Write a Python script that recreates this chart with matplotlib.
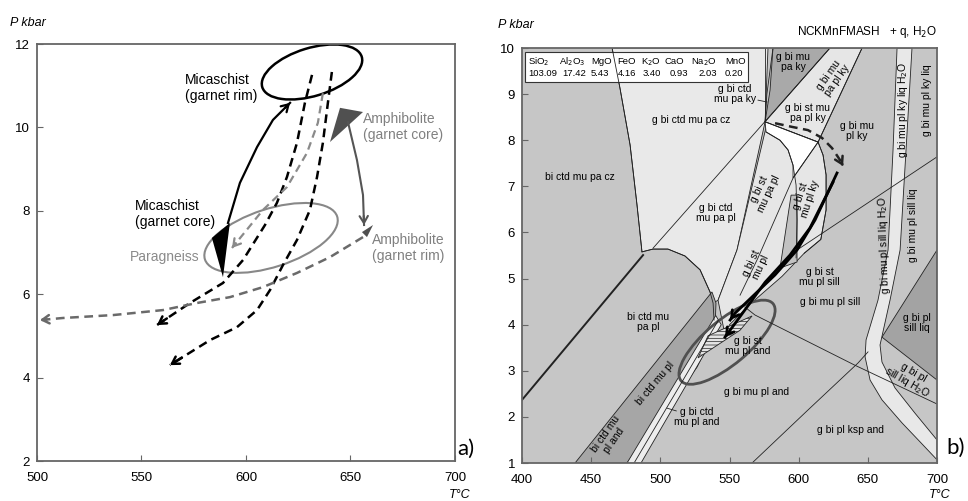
import numpy as np
import matplotlib.pyplot as plt
import matplotlib.transforms as mtransforms
from matplotlib.patches import Ellipse, Polygon

plt.rcParams['font.family'] = ['Liberation Sans', 'DejaVu Sans']
plt.rcParams['hatch.linewidth'] = 0.5

# ---------------- panel a data (T degC, P kbar) ----------------
rim_ell = (631.6, 11.33)
para_ell = (612.0, 7.35)

mica_T = [591.4, 597.1, 605.3, 612.9, 621.1]
mica_P = [7.71, 8.67, 9.53, 10.18, 10.59]

dash1_T = [631.6, 628.2, 624.4, 619.6, 614.8, 609.1, 598.6, 589.0, 573.2, 557.4]
dash1_P = [11.26, 10.59, 9.63, 8.81, 8.19, 7.66, 6.82, 6.27, 5.79, 5.26]
dash2_T = [641.1, 639.2, 636.8, 634.0, 630.6, 624.4, 617.7, 611.5, 605.3, 595.7, 582.8, 563.6]
dash2_P = [11.33, 10.59, 9.63, 8.81, 8.02, 7.30, 6.70, 6.10, 5.62, 5.21, 4.90, 4.30]
gdash_T = [636.8, 634.4, 629.2, 619.6, 608.1, 599.5, 593.3]
gdash_P = [10.82, 10.11, 9.39, 8.57, 8.02, 7.49, 7.11]
amrim_T = [656.0, 640.2, 624.4, 608.1, 592.3, 576.6, 560.3, 536.4, 512.4, 501.4]
amrim_P = [7.37, 6.89, 6.51, 6.17, 5.93, 5.79, 5.62, 5.50, 5.43, 5.38]
amph_T = [648.8, 653.1, 656.0, 656.5]
amph_P = [10.13, 9.22, 8.38, 7.66]

tri_amcore = ([645.0, 656.0, 640.2], [10.47, 10.37, 9.65])
tri_amrim = ([655.5, 660.8, 657.9], [7.49, 7.66, 7.37])
tri_mica = ([583.7, 592.3, 589.0], [7.35, 7.71, 6.41])

# ---------------- panel b data ----------------
oxides = ['SiO$_2$', 'Al$_2$O$_3$', 'MgO', 'FeO', 'K$_2$O', 'CaO', 'Na$_2$O', 'MnO']
ox_vals = ['103.09', '17.42', '5.43', '4.16', '3.40', '0.93', '2.03', '0.20']
ox_T = [404.3, 427.0, 450.0, 469.0, 486.0, 503.0, 522.0, 547.0]
val_T = [404.3, 429.0, 449.5, 469.0, 487.5, 507.0, 527.2, 546.7]

light_ctd = ([465.1, 577.8, 575.7, 555.4, 541.7, 538.1, 535.9, 528.7, 517.8, 505.5, 494.7, 486.7, 483.1, 478.1, 470.8],
             [10, 10, 8.40, 5.62, 4.53, 4.47, 4.71, 5.19, 5.49, 5.64, 5.64, 5.58, 6.60, 7.90, 9.13])
dark_paky = ([581.4, 622.6, 575.7, 579.3], [10, 10, 8.40, 9.09])
band_paplky = ([622.6, 645.8, 614.0, 575.7], [10, 10, 7.96, 8.40])
light_st = ([577.1, 614.0, 617.6, 619.8, 619.8, 616.0, 604.0, 588.0, 565.0, 550.0, 546.7, 541.7, 555.4],
            [8.37, 7.96, 7.68, 7.25, 6.49, 5.85, 5.55, 5.05, 4.45, 4.00, 3.78, 4.53, 5.62])
wedge_mid = ([594.5, 598.8, 598.8, 586.5], [6.81, 6.81, 5.36, 5.23])
white_field = ([575.7, 614.0, 595.9, 595.9, 592.3, 586.5, 576.4], [8.40, 7.96, 7.18, 7.46, 7.79, 8.00, 8.18])
dark_ctdpl = ([438.3, 475.9, 526.5, 539.5, 540.2, 537.3], [1.0, 1.0, 3.08, 3.88, 4.47, 4.71])
strip_and = ([475.9, 486.0, 544.0, 540.0], [1.0, 1.0, 4.0, 4.2])
dark_liq = ([660.2, 700, 700], [3.73, 5.62, 2.80])
band_liq = ([671.1, 668.2, 664.6, 657.3, 648.7, 648.0, 651.6, 660.2, 674.7, 687.7, 700, 700, 684.1, 669.6, 660.2, 658.8, 666.0, 673.3, 677.6, 681.9],
            [10, 7.79, 5.62, 4.53, 3.67, 3.30, 2.80, 2.37, 1.87, 1.46, 1.07, 1.50, 2.08, 2.63, 3.19, 3.56, 4.53, 5.62, 7.79, 10])
hatch_and = ([527.2, 534.5, 566.3, 557.6], [3.28, 3.76, 4.19, 3.88])

line_C = ([465.1, 470.8, 478.1, 483.1, 486.7], [10, 9.13, 7.90, 6.60, 5.58])
line_D = ([400, 487.5], [2.37, 5.51])
arc_E = ([486.7, 494.7, 505.5, 517.8, 528.7, 535.9, 538.1, 538.8], [5.58, 5.64, 5.64, 5.49, 5.19, 4.71, 4.47, 4.10])
line_A = ([494.7, 622.6], [5.66, 10])
line_B = ([645.8, 614.0, 595.9, 570.6, 557.6], [10, 7.96, 7.18, 5.45, 4.64])
line_V1 = ([575.7, 575.7], [10, 8.40])
line_V2 = ([581.4, 577.0, 575.7], [10, 9.0, 8.40])
line_W = ([575.7, 614.0], [8.40, 7.96])
inner_dome = ([576.4, 586.5, 592.3, 595.9, 598.1, 598.8, 598.1], [8.18, 8.00, 7.79, 7.46, 7.03, 6.27, 5.45])
outer_dome = ([614.0, 617.6, 619.8, 619.8, 616.0, 604.0], [7.96, 7.68, 7.25, 6.49, 5.85, 5.55])
line_K = ([598.8, 700], [5.62, 7.64])
line_G = ([561.2, 568.4, 640.7, 698.6, 700], [4.38, 4.21, 3.12, 2.30, 2.28])
line_H = ([566.3, 606.7, 642.9, 650.1], [1.0, 2.15, 3.17, 3.41])
line_S = ([481.0, 542.0], [1.0, 4.1])

ell_b = (548.2, 3.62)
bdash_T = [582.9, 595.2, 606.7, 616.9, 624.1, 629.9, 632.1]
bdash_P = [8.37, 8.29, 8.22, 8.05, 7.83, 7.57, 7.44]
barr1_T = [627.7, 611.8, 598.8, 582.9, 554.0, 550.4]
barr1_P = [7.29, 6.27, 5.62, 5.08, 4.25, 4.10]
barr2_T = [624.8, 608.2, 593.7, 575.7, 550.4, 546.7]
barr2_P = [7.09, 6.10, 5.51, 4.92, 3.88, 3.73]

fields = [
    ('bi ctd mu pa cz', 441.9, 7.20, 0),
    ('g bi ctd mu pa cz', 522.2, 8.44, 0),
    ('g bi ctd\nmu pa ky', 554.0, 9.00, 0),
    ('g bi ctd\nmu pa pl', 540.2, 6.42, 0),
    ('g bi mu\npa ky', 595.9, 9.70, 0),
    ('g bi mu\npa pl ky', 624.8, 9.35, 55),
    ('g bi st mu\npa pl ky', 606.7, 8.59, 0),
    ('g bi mu\npl ky', 642.2, 8.20, 0),
    ('g bi mu pl ky liq H$_2$O', 675.4, 8.66, 90),
    ('g bi mu pl ky liq', 692.8, 8.87, 90),
    ('g bi st\nmu pa pl', 574.9, 6.88, 65),
    ('g bi st\nmu pl ky', 604.6, 6.75, 72),
    ('g bi mu pl sill liq H$_2$O', 661.7, 5.73, 92),
    ('g bi mu pl sill liq', 682.6, 6.16, 90),
    ('bi ctd mu\npa pl', 491.1, 4.06, 0),
    ('bi ctd mu pl', 496.1, 2.73, 50),
    ('bi ctd mu\npl and', 463.6, 1.56, 55),
    ('g bi ctd\nmu pl and', 526.0, 2.00, 0),
    ('g bi st\nmu pl and', 563.0, 3.54, 0),
    ('g bi st\nmu pl', 569.2, 5.29, 65),
    ('g bi st\nmu pl sill', 615.0, 5.03, 0),
    ('g bi mu pl sill', 622.6, 4.49, 0),
    ('g bi pl\nsill liq', 685.5, 4.04, 0),
    ('g bi pl\nsill liq H$_2$O', 680.5, 2.84, -30),
    ('g bi mu pl and', 569.9, 2.54, 0),
    ('g bi pl ksp and', 637.1, 1.72, 0),
]


def ellipse(ax, fig, c, w, h, ang, color, lw):
    tr = fig.dpi_scale_trans + mtransforms.ScaledTranslation(c[0], c[1], ax.transData)
    ax.add_patch(Ellipse((0, 0), w, h, angle=ang, transform=tr, fill=False, ec=color, lw=lw))


def arrow_path(ax, T, P, color, lw, dashed=False, hl=0.5, hw=0.3):
    ls = (0, (3.5, 2.2)) if dashed else '-'
    ax.plot(T, P, color=color, lw=lw, ls=ls, dash_capstyle='butt')
    x0 = T[-1] + 0.3 * (T[-2] - T[-1])
    y0 = P[-1] + 0.3 * (P[-2] - P[-1])
    ax.annotate('', xy=(T[-1], P[-1]), xytext=(x0, y0),
                arrowprops=dict(arrowstyle=f'->,head_length={hl},head_width={hw}',
                                color=color, lw=lw, shrinkA=0, shrinkB=0))


def style_axes(ax):
    for s in ax.spines.values():
        s.set_color('#666666')
        s.set_linewidth(1.3)
    ax.tick_params(direction='in', length=4, color='#666666', labelsize=9.5)
    ax.tick_params(axis='x', pad=8)
    ax.tick_params(axis='y', pad=5)


fig = plt.figure(figsize=(9.68, 5.01), dpi=100)

# ================= panel a =================
ax = fig.add_axes([0.0382, 0.0798, 0.4318, 0.8323])
ax.set_xlim(500, 700)
ax.set_ylim(2, 12)
ax.set_xticks(range(500, 701, 50))
ax.set_yticks(range(2, 13, 2))
style_axes(ax)

ellipse(ax, fig, rim_ell, 1.04, 0.48, 17, 'black', 1.8)
ellipse(ax, fig, para_ell, 1.39, 0.58, 18, '#888888', 1.5)

arrow_path(ax, dash1_T, dash1_P, 'black', 1.8, dashed=True)
arrow_path(ax, dash2_T, dash2_P, 'black', 1.8, dashed=True)
arrow_path(ax, gdash_T, gdash_P, '#8a8a8a', 1.6, dashed=True)
arrow_path(ax, amrim_T, amrim_P, '#6a6a6a', 1.8, dashed=True)
arrow_path(ax, mica_T, mica_P, 'black', 1.6)
arrow_path(ax, amph_T, amph_P, '#555555', 1.5)

ax.fill(*tri_amcore, color='#505050', lw=0)
ax.fill(*tri_amrim, color='#505050', lw=0)
ax.fill(*tri_mica, color='black', lw=0)

ax.text(570.8, 10.94, 'Micaschist\n(garnet rim)', fontsize=10, va='center', ha='left')
ax.text(656.0, 10.01, 'Amphibolite\n(garnet core)', fontsize=10, va='center', ha='left', color='#808080')
ax.text(546.9, 7.92, 'Micaschist\n(garnet core)', fontsize=10, va='center', ha='left')
ax.text(660.3, 7.11, 'Amphibolite\n(garnet rim)', fontsize=10, va='center', ha='left', color='#808080')
ax.text(578.0, 6.89, 'Paragneiss', fontsize=10, va='center', ha='right', color='#8a8a8a')

ax.text(-0.065, 1.05, 'P kbar', transform=ax.transAxes, fontsize=9, style='italic', va='center')
ax.text(1.012, -0.082, 'T°C', transform=ax.transAxes, fontsize=9, style='italic', ha='center', va='center')
ax.text(1.005, 0.03, 'a)', transform=ax.transAxes, fontsize=16, ha='left', va='center',
        family=['Lato', 'DejaVu Sans'])

# ================= panel b =================
bx = fig.add_axes([0.5393, 0.0758, 0.4287, 0.8283])
bx.set_xlim(400, 700)
bx.set_ylim(1, 10)
bx.set_xticks(range(400, 701, 50))
bx.set_yticks(range(1, 11))
style_axes(bx)
bx.set_facecolor('#c6c6c6')

def field(poly, fc, **kw):
    bx.add_patch(Polygon(np.column_stack(poly), closed=True, fc=fc, ec='#222222', lw=0.6, **kw))

field(light_ctd, '#e9e9e9')
field(dark_paky, '#a9a9a9')
field(band_paplky, '#e6e6e6')
field(light_st, '#e6e6e6')
field(white_field, '#ffffff')
field(wedge_mid, '#c2c2c2')
field(dark_ctdpl, '#a6a6a6')
field(strip_and, '#ededed')
field(dark_liq, '#a3a3a3')
field(band_liq, '#e8e8e8')
field(hatch_and, '#e4e4e4', hatch='-----')

for ln in [line_C, arc_E, line_A, line_B, line_V1, line_V2, line_W, inner_dome,
           outer_dome, line_K, line_G, line_H, line_S]:
    bx.plot(*ln, color='#222222', lw=0.6)
bx.plot(*line_D, color='#222222', lw=1.4)

ellipse(bx, fig, ell_b, 1.2, 0.44, 40, '#505050', 2.0)

arrow_path(bx, bdash_T, bdash_P, '#222222', 1.8, dashed=True)
arrow_path(bx, barr1_T, barr1_P, 'black', 2.0)
arrow_path(bx, barr2_T, barr2_P, 'black', 2.0)

for txt, t, p, rot in fields:
    bx.text(t, p, txt, fontsize=7.5, ha='center', va='center', rotation=rot,
            rotation_mode='anchor', linespacing=1.0)
bx.plot([570.6, 577.1], [8.87, 8.83], color='#222222', lw=0.6)
bx.plot([504.8, 511.5], [2.19, 2.13], color='#222222', lw=0.6)

# composition box
bx.add_patch(Polygon([[402.2, 9.26], [563.4, 9.26], [563.4, 9.91], [402.2, 9.91]],
                     closed=True, fc='white', ec='#333333', lw=0.8))
for name, val, tn, tv in zip(oxides, ox_vals, ox_T, val_T):
    bx.text(tn, 9.70, name, fontsize=6.8, ha='left', va='center')
    bx.text(tv, 9.44, val, fontsize=6.8, ha='left', va='center')

bx.text(1.0, 1.039, 'NCKMnFMASH   + q, H$_2$O', transform=bx.transAxes, fontsize=8.5,
        ha='right', va='center')
bx.text(-0.058, 1.055, 'P kbar', transform=bx.transAxes, fontsize=9, style='italic', va='center')
bx.text(1.007, -0.077, 'T°C', transform=bx.transAxes, fontsize=9, style='italic', ha='center', va='center')
bx.text(1.022, 0.036, 'b)', transform=bx.transAxes, fontsize=16, ha='left', va='center',
        family=['Lato', 'DejaVu Sans'])

fig.savefig('out.png', dpi=100)
